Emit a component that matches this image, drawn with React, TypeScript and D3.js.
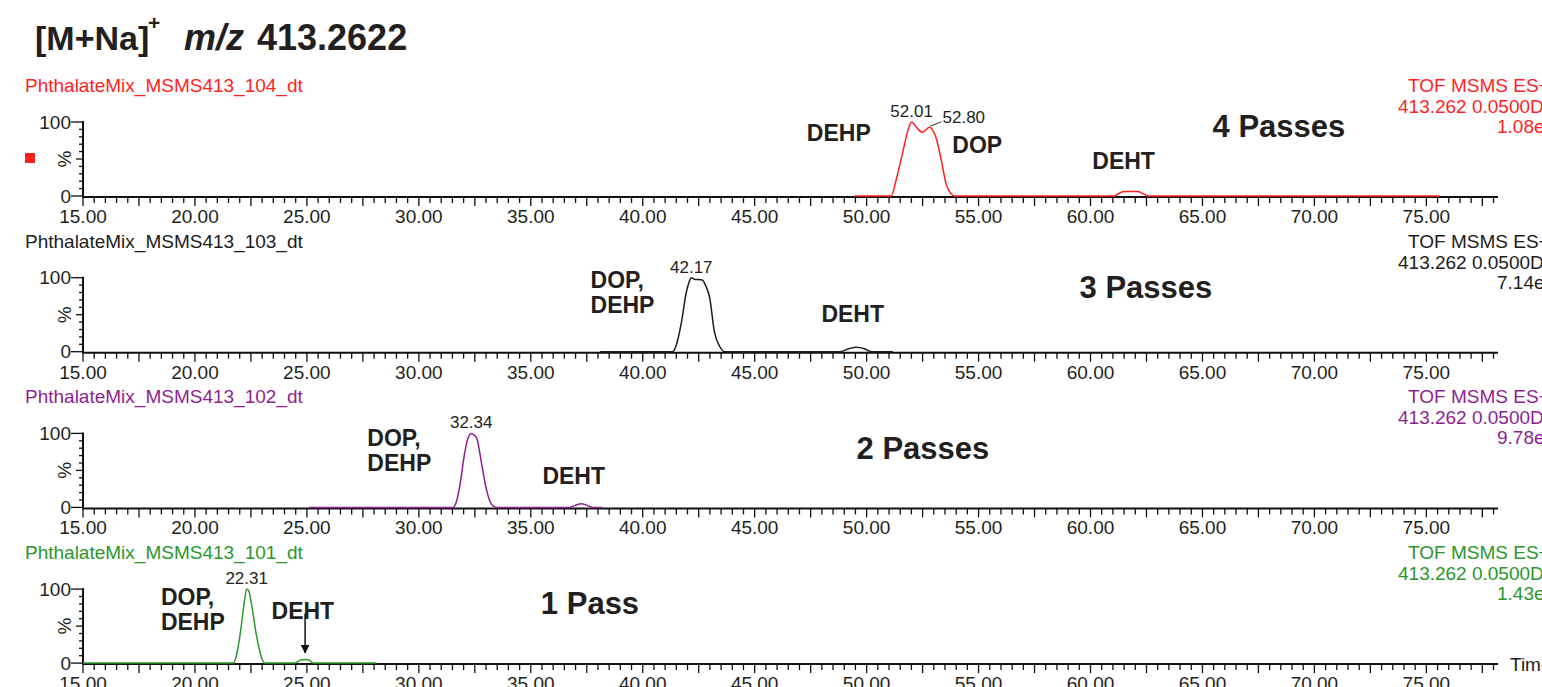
import React from "react";
import * as d3 from "d3";

// run names, colours and header text for the four stacked chromatograms (top -> bottom)
const runNames = [
  "PhthalateMix_MSMS413_104_dt",
  "PhthalateMix_MSMS413_103_dt",
  "PhthalateMix_MSMS413_102_dt",
  "PhthalateMix_MSMS413_101_dt",
];
const runColors = ["#ff1f1f", "#1c1c1c", "#8f1f8f", "#2b972b"];
const runIntensity = ["1.08e4", "7.14e3", "9.78e3", "1.43e4"];
const passLabels = ["4 Passes", "3 Passes", "2 Passes", "1 Pass"];

// traces: [arrival time, % intensity]
const trace104: [number, number][] = [
  [49.46, 0], [51.1, 0], [51.32, 22], [51.62, 60], [51.85, 89], [52.01, 100],
  [52.25, 92], [52.5, 86], [52.8, 93], [53.11, 78], [53.33, 49], [53.56, 15],
  [53.78, 3], [53.93, 0], [61.07, 0], [61.3, 4], [61.52, 6], [62.1, 6],
  [62.35, 3], [62.56, 0], [75.58, 0],
];
const trace103: [number, number][] = [
  [38.1, 0], [41.33, 0], [41.5, 9], [41.73, 40], [41.95, 81], [42.07, 94],
  [42.17, 100], [42.3, 98], [42.66, 97], [42.8, 90], [42.99, 73], [43.2, 27],
  [43.44, 7], [43.66, 0], [48.8, 0], [49.2, 4], [49.54, 6], [49.9, 4],
  [50.21, 0], [51.17, 0],
];
const trace102: [number, number][] = [
  [25.1, 0], [31.53, 0], [31.7, 10], [31.83, 29], [32.05, 74], [32.2, 94],
  [32.34, 100], [32.45, 98], [32.58, 94], [32.8, 60], [33.02, 24], [33.25, 4],
  [33.47, 0], [36.74, 0], [37.0, 3], [37.26, 5], [37.5, 3], [37.78, 0],
  [38.18, 0],
];
const trace101: [number, number][] = [
  [15.0, 0], [21.71, 0], [21.85, 10], [22.01, 37], [22.19, 79], [22.31, 100],
  [22.4, 98], [22.53, 79], [22.75, 37], [22.98, 7], [23.12, 0], [24.46, 0],
  [24.7, 4], [24.91, 5], [25.1, 4], [25.28, 0], [28.11, 0],
];
const traces = [trace104, trace103, trace102, trace101];

// apex labels
const peakLabels = [
  [{ t: 52.01, text: "52.01" }, { t: 52.8, text: "52.80", leaderTo: [53.39, 99] }],
  [{ t: 42.17, text: "42.17" }],
  [{ t: 32.34, text: "32.34" }],
  [{ t: 22.31, text: "22.31" }],
];

// compound annotations: anchor in [time, %]
const compoundNotes = [
  [
    { t: 47.33, pct: 74, lines: ["DEHP"] },
    { t: 53.83, pct: 58, lines: ["DOP"] },
    { t: 60.08, pct: 36, lines: ["DEHT"] },
  ],
  [
    { t: 37.67, pct: 86, lines: ["DOP,", "DEHP"] },
    { t: 47.98, pct: 40, lines: ["DEHT"] },
  ],
  [
    { t: 27.7, pct: 83, lines: ["DOP,", "DEHP"] },
    { t: 35.52, pct: 31, lines: ["DEHT"] },
  ],
  [
    { t: 18.48, pct: 78, lines: ["DOP,", "DEHP"] },
    { t: 23.42, pct: 60, lines: ["DEHT"] },
  ],
];
const passAnchors = [[65.45, 80], [59.51, 73], [49.55, 66], [35.45, 66]];
const dehtArrow = { t: 24.92, from: 67, to: 14 };

const xTicksLabelled = d3.range(15, 80, 5);

const FONT = "'Liberation Sans', Arial, Helvetica, sans-serif";
const INK = "#231f20";

const x = d3.scaleLinear().domain([15, 78.2]).range([83, 1498]);

const Panel = ({ i }: { i: number }) => {
  const y0 = 196 + i * 155.7;
  const y = d3.scaleLinear().domain([0, 100]).range([y0, y0 - 74]);
  const color = runColors[i];
  const line = d3
    .line<[number, number]>()
    .x((d) => x(d[0]))
    .y((d) => y(d[1]))
    .curve(d3.curveMonotoneX);

  const minor = d3.range(30, 157).map((k) => k / 2);

  return (
    <g>
      {/* header */}
      <text x={25} y={y0 - 104} fontSize={19} fill={color}>
        {runNames[i]}
      </text>
      <text x={1408} y={y0 - 104} fontSize={19} fill={color}>
        TOF MSMS ES+
      </text>
      <text x={1398} y={y0 - 83} fontSize={19} fill={color}>
        413.262 0.0500Da
      </text>
      <text x={1497} y={y0 - 63} fontSize={19} fill={color}>
        {runIntensity[i]}
      </text>
      {i === 0 && <rect x={25} y={153} width={10} height={10} fill={color} />}

      {/* y axis */}
      <line x1={83} x2={83} y1={y(100) - 1} y2={y0 + 1} stroke="#111" strokeWidth={2} />
      {d3.range(0, 101, 10).map((v) => (
        <line
          key={v}
          x1={v === 0 || v === 100 ? 71 : v === 50 ? 76 : 79}
          x2={83}
          y1={y(v)}
          y2={y(v)}
          stroke="#111"
          strokeWidth={1.3}
        />
      ))}
      <text x={71} y={y(100)} dy="0.35em" textAnchor="end" fontSize={19} fill={INK}>
        100
      </text>
      <text x={71} y={y(0)} dy="0.35em" textAnchor="end" fontSize={19} fill={INK}>
        0
      </text>
      <text
        transform={`translate(71,${y(50)}) rotate(-90)`}
        textAnchor="middle"
        fontSize={19}
        fill={INK}
      >
        %
      </text>

      {/* x axis */}
      <line x1={82} x2={1498} y1={y0 + 1} y2={y0 + 1} stroke="#111" strokeWidth={2} />
      {minor.map((t) => (
        <line
          key={t}
          x1={x(t)}
          x2={x(t)}
          y1={y0 + 1}
          y2={y0 + (t % 2.5 === 0 ? 10 : 7)}
          stroke="#111"
          strokeWidth={1.3}
        />
      ))}
      {xTicksLabelled.map((t) => (
        <text key={t} x={x(t)} y={y0 + 27} textAnchor="middle" fontSize={19} fill={INK}>
          {d3.format(".2f")(t)}
        </text>
      ))}
      {i === 3 && (
        <text x={1510} y={y0 + 8} fontSize={19} fill={INK}>
          Time
        </text>
      )}

      {/* trace */}
      <path d={line(traces[i]) || ""} fill="none" stroke={color} strokeWidth={1.5} />

      {/* apex labels */}
      {peakLabels[i].map((p: any) =>
        p.leaderTo ? (
          <g key={p.text}>
            <line
              x1={x(p.t) + 1}
              y1={y(93) - 1}
              x2={x(p.leaderTo[0]) - 1}
              y2={y(p.leaderTo[1]) - 1}
              stroke="#333"
              strokeWidth={1}
            />
            <text x={x(p.leaderTo[0])} y={y(p.leaderTo[1])} fontSize={17} fill={INK}>
              {p.text}
            </text>
          </g>
        ) : (
          <text key={p.text} x={x(p.t)} y={y(100) - 5} textAnchor="middle" fontSize={17} fill={INK}>
            {p.text}
          </text>
        )
      )}

      {/* compound notes */}
      {compoundNotes[i].map((n) => (
        <text
          key={n.lines.join()}
          x={x(n.t)}
          y={y(n.pct)}
          fontSize={23}
          fontWeight="bold"
          fill={INK}
        >
          {n.lines.map((l, k) => (
            <tspan key={l} x={x(n.t)} dy={k === 0 ? 0 : 25}>
              {l}
            </tspan>
          ))}
        </text>
      ))}
      <text
        x={x(passAnchors[i][0])}
        y={y(passAnchors[i][1])}
        fontSize={31}
        fontWeight="bold"
        fill={INK}
      >
        {passLabels[i]}
      </text>
      {i === 3 && (
        <line
          x1={x(dehtArrow.t)}
          x2={x(dehtArrow.t)}
          y1={y(dehtArrow.from)}
          y2={y(dehtArrow.to)}
          stroke="#111"
          strokeWidth={1.5}
          markerEnd="url(#arrowhead)"
        />
      )}
    </g>
  );
};

export default function App() {
  return (
    <svg
      width={1542}
      height={687}
      style={{ position: "absolute", left: 0, top: 0, background: "#fff" }}
      fontFamily={FONT}
    >
      <defs>
        <marker
          id="arrowhead"
          viewBox="0 0 10 10"
          refX={9}
          refY={5}
          markerWidth={6}
          markerHeight={6}
          orient="auto"
        >
          <path d="M0,0 L10,5 L0,10 z" fill="#111" />
        </marker>
      </defs>
      <g fill={INK} fontWeight="bold">
        <text x={35} y={50} fontSize={34}>
          [M+Na]
        </text>
        <text x={148} y={30} fontSize={21}>
          +
        </text>
        <text x={184} y={50} fontSize={36} fontStyle="italic">
          m/z
        </text>
        <text x={257} y={50} fontSize={36}>
          413.2622
        </text>
      </g>
      {runNames.map((_, i) => (
        <Panel key={i} i={i} />
      ))}
    </svg>
  );
}
